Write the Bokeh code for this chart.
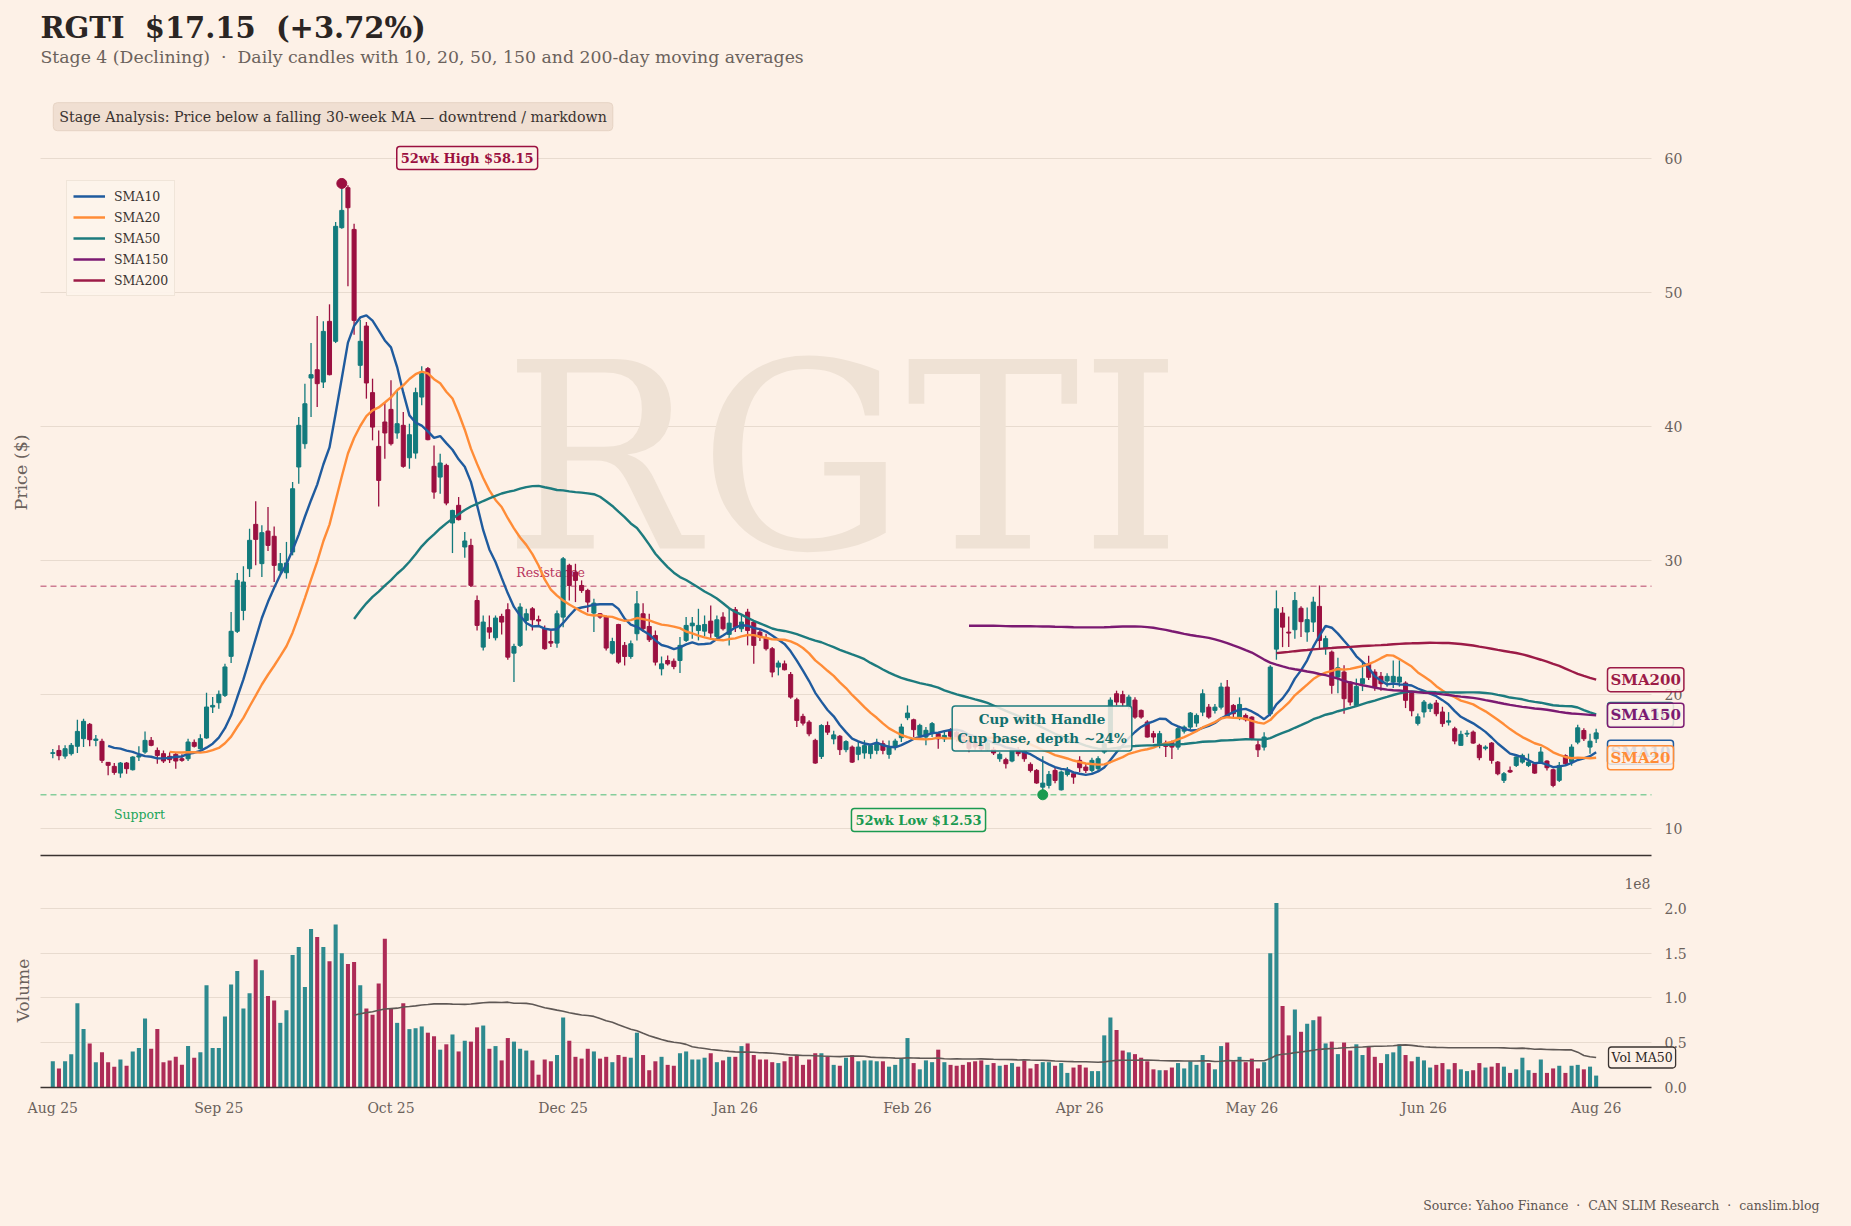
import math
import numpy as np
import pandas as pd
from bokeh.plotting import figure
from bokeh.layouts import column
from bokeh.models import (ColumnDataSource, Range1d, LinearAxis, FixedTicker, Label,
                          Legend, LegendItem, Grid)
from bokeh.core.properties import value
from bokeh.embed import file_html
from bokeh.resources import INLINE

# ---------------- data ----------------
TICKER = "RGTI"
LAST = 17.15
CHANGE_PCT = 3.72
STAGE = "Stage 4 (Declining)"
HIGH_52W = 58.15
HIGH_52W_IDX = 47
LOW_52W = 12.53
LOW_52W_IDX = 161
RESISTANCE = 28.1
SUPPORT = 12.53

TICK_IDX = [0, 27, 55, 83, 111, 139, 167, 195, 223, 251]
TICK_LABELS = ["Aug 25", "Sep 25", "Oct 25", "Dec 25", "Jan 26", "Feb 26",
               "Apr 26", "May 26", "Jun 26", "Aug 26"]
PRICE_TICKS = [10, 20, 30, 40, 50, 60]
VOL_TICKS = [0, 0.5e8, 1.0e8, 1.5e8, 2.0e8]

OPEN = [
    15.62, 15.84, 15.42, 15.60, 16.15, 16.72, 17.79, 16.59, 16.52, 14.95,
    14.65, 14.15, 14.90, 14.40, 15.35, 15.72, 16.59, 15.84, 15.60, 15.40,
    15.55, 15.22, 15.22, 16.44, 15.97, 16.77, 19.08, 19.40, 19.95, 22.86,
    24.73, 26.29, 29.40, 32.71, 29.78, 32.21, 31.82, 29.28, 29.10, 30.65,
    36.99, 38.73, 43.63, 44.25, 43.33, 47.86, 46.37, 54.85, 57.83, 54.72,
    44.58, 47.51, 42.54, 38.53, 40.35, 41.29, 39.53, 40.10, 37.68, 38.03,
    42.21, 44.33, 37.04, 36.24, 37.11, 32.81, 34.13, 31.02, 31.14, 27.03,
    23.55, 25.00, 24.25, 25.84, 26.34, 23.10, 23.68, 25.54, 26.41, 25.60,
    24.92, 23.97, 23.85, 25.79, 29.65, 29.15, 28.15, 27.78, 26.09, 26.04,
    25.79, 23.10, 25.24, 23.68, 22.85, 24.55, 26.04, 25.09, 24.42, 21.93,
    22.55, 22.50, 22.55, 24.05, 25.14, 24.79, 24.74, 25.49, 24.35, 25.79,
    24.50, 26.34, 24.92, 26.16, 25.42, 24.67, 24.25, 23.43, 22.06, 22.30,
    21.51, 19.62, 18.38, 17.95, 16.59, 15.39, 17.70, 16.70, 16.90, 15.90,
    16.09, 15.55, 15.65, 15.60, 15.85, 16.34, 15.55, 16.14, 16.79, 18.28,
    18.13, 16.96, 16.84, 17.09, 17.09, 16.71, 17.30, 17.20, 17.00, 16.60,
    16.50, 16.30, 15.90, 15.90, 15.22, 15.15, 15.05, 15.90, 15.80, 14.80,
    14.35, 13.10, 13.23, 14.35, 12.90, 14.05, 14.10, 15.10, 14.60, 14.35,
    14.48, 15.72, 16.40, 20.07, 20.00, 19.12, 19.60, 18.83, 17.96, 17.09,
    16.34, 16.39, 16.46, 16.09, 17.28, 17.58, 17.88, 18.70, 19.07, 18.83,
    19.07, 20.57, 19.20, 18.33, 18.45, 18.33, 16.26, 16.09, 18.58, 23.40,
    26.09, 24.67, 24.85, 26.45, 24.68, 25.42, 26.59, 23.43, 23.18, 21.32,
    21.69, 20.94, 19.20, 20.82, 22.30, 21.69, 21.37, 21.02, 20.94, 20.94,
    20.87, 20.12, 17.86, 18.71, 18.96, 19.38, 18.71, 17.95, 17.46, 16.22,
    17.06, 17.21, 16.22, 16.00, 16.39, 14.97, 13.61, 14.35, 14.72, 14.97,
    14.72, 14.85, 14.97, 15.05, 14.40, 13.61, 15.45, 15.00, 16.46, 17.33,
    16.09, 16.71,
]
HIGH = [
    15.95, 16.22, 16.22, 16.39, 18.13, 18.21, 17.89, 17.00, 16.72, 14.98,
    14.90, 14.97, 14.97, 15.40, 16.15, 17.26, 16.84, 16.05, 15.84, 15.70,
    15.70, 15.55, 16.72, 16.65, 17.04, 20.15, 19.83, 20.32, 22.30, 26.17,
    29.08, 29.58, 32.39, 34.43, 32.64, 34.00, 32.56, 30.57, 31.40, 35.87,
    40.72, 43.21, 46.24, 48.26, 47.86, 49.13, 55.27, 58.15, 58.01, 55.15,
    47.98, 47.81, 43.58, 39.72, 41.84, 43.46, 42.71, 41.09, 40.22, 42.91,
    44.50, 44.45, 38.60, 37.98, 37.24, 33.80, 34.75, 32.14, 31.64, 27.41,
    25.91, 25.91, 25.91, 26.04, 26.83, 23.80, 26.83, 26.41, 26.54, 25.90,
    25.17, 24.79, 26.29, 30.27, 29.77, 29.77, 28.53, 27.90, 27.16, 26.10,
    25.91, 24.25, 25.29, 23.93, 24.05, 27.73, 26.83, 26.04, 24.79, 22.85,
    22.93, 22.70, 24.30, 25.79, 25.79, 26.41, 25.91, 26.66, 25.91, 26.16,
    26.41, 26.54, 26.04, 26.41, 25.54, 24.90, 24.55, 23.55, 22.55, 22.55,
    21.69, 19.77, 18.58, 18.10, 16.71, 17.80, 18.00, 17.30, 17.00, 16.60,
    16.20, 16.47, 16.60, 16.34, 16.71, 16.59, 16.59, 16.71, 17.84, 19.20,
    18.21, 17.84, 17.59, 17.96, 17.14, 17.34, 17.50, 17.40, 17.20, 16.80,
    16.90, 16.50, 16.60, 16.10, 15.70, 15.30, 16.00, 16.10, 15.90, 14.95,
    14.45, 15.40, 14.30, 14.60, 14.35, 14.60, 14.23, 15.40, 14.85, 15.30,
    15.40, 16.84, 19.80, 20.30, 20.30, 20.00, 19.80, 18.90, 18.10, 17.30,
    17.30, 16.59, 16.59, 17.60, 17.70, 18.70, 18.60, 20.40, 19.30, 19.30,
    20.90, 21.10, 19.30, 19.80, 18.60, 18.40, 16.60, 17.20, 22.20, 27.78,
    26.54, 25.84, 27.66, 26.60, 26.50, 27.30, 28.15, 24.40, 23.30, 22.76,
    22.20, 21.00, 21.20, 22.43, 22.90, 21.90, 21.70, 21.60, 22.56, 22.56,
    21.00, 20.20, 18.60, 19.60, 19.40, 19.60, 19.10, 18.70, 17.60, 17.30,
    17.35, 17.33, 16.34, 16.22, 16.47, 15.05, 14.23, 14.65, 15.40, 15.60,
    15.60, 14.90, 16.10, 15.10, 14.47, 14.97, 15.55, 16.30, 17.75, 17.50,
    17.08, 17.45,
]
LOW = [
    15.25, 15.10, 15.22, 15.47, 15.65, 16.09, 16.15, 16.15, 14.90, 13.98,
    14.03, 13.81, 14.10, 14.35, 15.05, 15.60, 16.15, 14.85, 14.90, 14.90,
    14.48, 15.00, 15.05, 16.05, 15.90, 16.72, 18.63, 18.96, 19.83, 22.36,
    24.60, 25.55, 28.78, 29.65, 28.78, 30.72, 28.41, 28.90, 28.66, 30.40,
    35.75, 38.36, 40.72, 41.47, 42.88, 43.83, 46.24, 54.77, 50.47, 46.86,
    43.63, 42.09, 38.98, 34.05, 37.61, 38.60, 39.10, 36.94, 36.86, 37.61,
    41.59, 38.98, 34.62, 35.00, 34.13, 30.57, 33.00, 30.22, 28.03, 24.79,
    23.30, 24.17, 24.05, 24.50, 22.61, 20.94, 23.55, 24.79, 24.79, 25.20,
    23.35, 23.55, 23.50, 25.04, 27.03, 26.91, 27.60, 26.16, 24.67, 25.66,
    23.30, 23.00, 22.30, 22.18, 22.68, 24.05, 24.67, 23.93, 22.18, 21.44,
    22.18, 21.90, 21.61, 23.93, 24.17, 24.05, 24.35, 24.17, 24.05, 24.79,
    23.68, 24.67, 24.67, 23.68, 22.30, 24.00, 23.30, 21.31, 21.44, 21.81,
    19.69, 17.58, 17.70, 16.90, 14.85, 15.20, 17.00, 16.30, 15.50, 15.70,
    14.90, 15.10, 15.22, 15.22, 15.55, 15.55, 15.22, 15.85, 16.47, 18.10,
    16.84, 16.84, 16.22, 16.84, 15.97, 16.47, 16.70, 16.50, 16.30, 15.70,
    15.90, 15.80, 15.80, 15.50, 15.00, 14.50, 14.95, 15.40, 15.00, 14.20,
    13.35, 12.53, 13.00, 13.40, 12.85, 13.90, 13.35, 14.23, 14.15, 14.20,
    14.30, 15.60, 16.30, 19.20, 19.10, 18.90, 18.20, 18.20, 16.80, 16.40,
    16.00, 15.35, 15.20, 15.90, 17.10, 17.40, 17.60, 18.40, 18.20, 18.60,
    18.90, 18.30, 18.30, 18.10, 18.00, 16.60, 15.35, 15.84, 18.40, 22.61,
    23.55, 23.55, 24.17, 24.30, 23.95, 24.67, 23.43, 22.98, 20.07, 20.10,
    18.58, 19.20, 19.10, 20.27, 21.10, 20.30, 20.30, 20.60, 20.50, 20.60,
    19.00, 18.40, 17.70, 18.30, 18.70, 18.40, 17.60, 17.70, 16.30, 16.20,
    16.85, 16.34, 15.10, 15.85, 14.85, 13.98, 13.41, 14.15, 14.60, 14.85,
    14.60, 14.10, 14.85, 14.35, 13.10, 13.48, 14.70, 14.70, 16.30, 16.55,
    15.60, 16.40,
]
CLOSE = [
    15.67, 15.45, 15.97, 16.22, 17.26, 18.01, 16.64, 16.69, 15.10, 14.73,
    14.20, 14.90, 14.48, 15.35, 15.45, 16.59, 16.22, 15.47, 15.05, 15.15,
    15.05, 15.10, 16.47, 16.15, 16.72, 19.08, 19.20, 20.03, 22.07, 24.73,
    28.53, 28.41, 31.52, 31.59, 32.09, 31.14, 29.65, 29.78, 29.83, 35.37,
    40.10, 41.71, 43.88, 43.21, 47.11, 43.88, 54.95, 56.14, 56.34, 47.93,
    46.37, 43.26, 39.97, 35.99, 39.53, 38.73, 40.22, 37.04, 39.40, 42.54,
    44.08, 39.03, 35.12, 37.29, 34.30, 33.75, 33.06, 31.47, 28.16, 25.17,
    25.42, 24.67, 25.72, 25.42, 22.80, 23.60, 26.54, 26.04, 25.59, 25.50,
    23.43, 23.85, 26.04, 30.14, 28.15, 28.53, 27.78, 26.91, 26.83, 25.79,
    23.48, 23.97, 22.43, 22.85, 23.80, 26.78, 24.92, 24.10, 22.43, 22.30,
    22.30, 22.10, 23.68, 25.17, 25.34, 25.17, 25.24, 24.60, 25.59, 24.92,
    25.34, 25.04, 25.42, 24.79, 23.68, 24.30, 23.43, 21.69, 22.36, 21.86,
    19.82, 18.08, 17.88, 17.08, 14.90, 17.70, 17.20, 17.00, 15.90, 16.50,
    14.97, 16.09, 16.20, 16.20, 16.39, 15.85, 16.09, 16.54, 17.59, 18.63,
    17.39, 17.71, 17.34, 17.84, 16.71, 16.96, 16.90, 16.80, 16.50, 16.00,
    16.10, 15.95, 16.40, 15.65, 15.55, 14.85, 15.90, 15.60, 15.22, 14.35,
    13.41, 13.40, 14.05, 13.60, 14.23, 14.35, 13.85, 14.55, 14.35, 15.10,
    15.22, 16.34, 19.60, 19.45, 19.40, 19.82, 18.33, 18.33, 16.84, 16.84,
    17.09, 16.14, 16.09, 17.46, 17.58, 18.63, 18.45, 20.07, 18.33, 19.07,
    20.57, 18.33, 18.58, 19.27, 18.13, 16.71, 15.89, 16.84, 22.06, 26.41,
    25.04, 24.60, 27.03, 25.45, 25.60, 26.91, 24.05, 24.18, 20.70, 22.01,
    19.70, 19.45, 20.62, 21.19, 21.30, 20.52, 20.82, 21.37, 21.37, 21.32,
    19.58, 18.80, 18.35, 19.45, 19.28, 18.58, 17.84, 18.05, 16.54, 17.04,
    17.12, 16.39, 15.30, 16.09, 15.10, 14.10, 14.10, 14.23, 15.35, 15.47,
    14.97, 14.15, 15.72, 14.55, 13.23, 14.72, 14.85, 16.09, 17.53, 16.71,
    16.53, 17.15,
]
# volume in millions of shares
VOLUME_M = [
    29, 21, 29, 37, 94, 65, 49, 28, 39, 28,
    23, 31, 24, 40, 44, 77, 43, 65, 28, 30,
    34, 25, 46, 33, 39, 114, 44, 44, 79, 115,
    130, 88, 105, 143, 131, 102, 97, 72, 86, 148,
    157, 112, 177, 168, 157, 141, 182, 150, 138, 140,
    114, 88, 81, 116, 166, 88, 72, 94, 65, 66,
    68, 61, 57, 42, 48, 59, 40, 52, 51, 67,
    69, 43, 46, 30, 55, 51, 43, 41, 30, 14,
    31, 29, 36, 78, 52, 34, 32, 43, 40, 32,
    34, 28, 36, 34, 33, 61, 36, 19, 29, 34,
    25, 24, 38, 40, 31, 31, 33, 38, 28, 30,
    34, 34, 46, 49, 36, 31, 31, 28, 27, 29,
    34, 36, 25, 31, 38, 38, 34, 25, 24, 33,
    36, 29, 30, 30, 29, 29, 23, 25, 32, 55,
    27, 20, 30, 28, 42, 28, 25, 24, 25, 28,
    29, 30, 25, 27, 24, 25, 27, 23, 30, 21,
    26, 28, 28, 24, 27, 16, 22, 25, 22, 18,
    18, 58, 78, 64, 41, 39, 37, 33, 29, 20,
    19, 19, 22, 27, 21, 29, 25, 36, 27, 20,
    46, 50, 29, 34, 28, 32, 21, 28, 150, 206,
    91, 58, 87, 62, 71, 75, 79, 49, 51, 37,
    50, 41, 48, 36, 46, 34, 27, 37, 39, 48,
    36, 29, 34, 30, 22, 25, 27, 20, 27, 20,
    18, 19, 27, 22, 23, 27, 23, 16, 20, 33,
    19, 16, 31, 16, 21, 24, 16, 24, 25, 20,
    23, 13,
]
SMA_WINDOWS = [10, 20, 50, 150, 200]
SMA_NAMES = ["SMA10", "SMA20", "SMA50", "SMA150", "SMA200"]
VOL_MA_WINDOW = 50

# ---------------- styles / geometry ----------------
BG = "#fdf1e7"
GRID = "#e8dbcf"
AXIS_TXT = "#6b625c"
DARK = "#3a3330"
UP = "#127a7c"
DOWN = "#9b1040"
VOL_UP = "#2e8a8f"
VOL_DOWN = "#ad2c57"
SMA_COLORS = ["#1f5b9e", "#ff8c37", "#1d7b7e", "#7b1a72", "#9c1b47"]
FONT = "DejaVu Serif"
SP2 = " \u00a0"   # a double space that survives SVG whitespace collapsing

W = 1835
PRICE_H = 859
VOL_H = 351
XMIN, XMAX = -2, 260          # plotted x extent (frame of the axes)
PMIN, PMAX = 8.0, 63.37       # price axis limits
VMAX = 2.19e8                 # volume axis top
# page pixel positions of the axes boxes
AX_L, AX_R = 40, 1651
P_TOP, P_BOT = 113, 855
V_TOP, V_BOT = 891, 1086.7
PAGE_OFF = 8

PPX = (AX_R - AX_L) / (XMAX - XMIN)
PPY = (P_BOT - P_TOP) / (PMAX - PMIN)
VPY = (V_BOT - V_TOP) / VMAX


def dx(page_x):
    return XMIN + (page_x - AX_L) / PPX


def dy(page_y):
    return PMIN + (P_BOT - page_y) / PPY


def dv(page_y):
    return (V_BOT - page_y) / VPY


X0, X1 = dx(PAGE_OFF), dx(PAGE_OFF + W)
Y0, Y1 = dy(PAGE_OFF + PRICE_H), dy(PAGE_OFF)
V0, V1 = dv(PAGE_OFF + PRICE_H + VOL_H), dv(PAGE_OFF + PRICE_H)

n = len(CLOSE)
idx = np.arange(n)
o = np.array(OPEN); h = np.array(HIGH); l = np.array(LOW); c = np.array(CLOSE)
vol = np.array(VOLUME_M, dtype=float) * 1e6
up = c >= o
src = ColumnDataSource(dict(x=idx, o=o, h=h, l=l, c=c,
                            top=np.maximum(o, c), bottom=np.minimum(o, c),
                            color=np.where(up, UP, DOWN), vol=vol,
                            vcolor=np.where(up, VOL_UP, VOL_DOWN)))

closes = pd.Series(CLOSE)
smas = [closes.rolling(w).mean().to_numpy() for w in SMA_WINDOWS]
vol_ma = pd.Series(vol).rolling(VOL_MA_WINDOW).mean().to_numpy()


def add_hgrid(fig, ticks):
    g = Grid(dimension=1, ticker=FixedTicker(ticks=ticks), grid_line_color=GRID, grid_line_width=1)
    try:
        g.cross_bounds = (XMIN, XMAX)
        fig.add_layout(g)
    except Exception:
        fig.segment(x0=[XMIN] * len(ticks), x1=[XMAX] * len(ticks), y0=ticks, y1=ticks,
                    line_color=GRID, line_width=1, level="underlay")


def hline(fig, level, color, alpha):
    fig.segment(x0=[XMIN], x1=[XMAX], y0=[level], y1=[level], line_color=color,
                line_dash="6 4", line_width=1.5, line_alpha=alpha, level="underlay")


def right_axis(fig, ticks, overrides=None):
    ax = LinearAxis(fixed_location=XMAX, ticker=FixedTicker(ticks=ticks),
                    major_label_text_font=FONT, major_label_text_font_size="14px",
                    major_label_text_color=AXIS_TXT, axis_line_color=None,
                    major_tick_line_color=None, minor_tick_line_color=None,
                    major_label_standoff=7)
    if overrides:
        ax.major_label_overrides = overrides
    fig.add_layout(ax, "right")


def txt(fig, x, y, text, size, color, bold=False, align="left", baseline="middle", angle=0.0, **kw):
    fig.add_layout(Label(x=x, y=y, text=text, text_font=FONT, text_font_size=size,
                         text_font_style="bold" if bold else "normal", text_color=color,
                         text_align=align, text_baseline=baseline, angle=angle, **kw))


def box_label(fig, x, y, text, color, size, bold=True, align="center", border=None,
              bg=BG, bg_alpha=0.9, pad=4, bw=1.5):
    txt(fig, x, y, text, size, color, bold=bold, align=align,
        background_fill_color=bg, background_fill_alpha=bg_alpha,
        border_line_color=border if border else color, border_line_width=bw,
        padding=pad, border_radius=3)


# ---------------- price figure ----------------
x_range = Range1d(X0, X1)
p = figure(width=W, height=PRICE_H, x_range=x_range, y_range=Range1d(Y0, Y1),
           output_backend="svg", toolbar_location=None,
           x_axis_location=None, y_axis_location=None,
           min_border=0, min_border_left=0, min_border_right=0, min_border_top=0, min_border_bottom=0,
           background_fill_color=BG, border_fill_color=BG, outline_line_color=None)
p.grid.visible = False
add_hgrid(p, PRICE_TICKS)
right_axis(p, PRICE_TICKS)
spine = LinearAxis(fixed_location=PMIN, bounds=(XMIN, XMAX), ticker=FixedTicker(ticks=[]),
                   axis_line_color=DARK, axis_line_width=1.6,
                   major_tick_line_color=None, minor_tick_line_color=None)
p.add_layout(spine, "below")

# watermark
p.text(x=[dx(842)], y=[dy(458)], text=[TICKER], text_font=value(FONT),
       text_font_size=value("260px"), text_color="#efe2d5",
       text_align="center", text_baseline="middle")

# support / resistance
hline(p, RESISTANCE, "#c9708a", 0.9)
hline(p, SUPPORT, "#7fcb98", 0.95)
p.text(x=[dx(550)], y=[dy(572)], text=["Resistance"], text_font=value(FONT),
       text_font_size=value("12.5px"), text_color="#b8345e", text_align="center", text_baseline="middle")
p.text(x=[dx(139)], y=[dy(813.5)], text=["Support"], text_font=value(FONT),
       text_font_size=value("12.5px"), text_color="#22a55a", text_align="center", text_baseline="middle")

# candles
p.segment(x0="x", y0="l", x1="x", y1="h", color="color", line_width=1.3, source=src)
p.vbar(x="x", top="top", bottom="bottom", width=0.66, fill_color="color", line_color="color",
       line_width=1, source=src)

# moving averages
sma_renderers = []
for name, arr, col in zip(SMA_NAMES, smas, SMA_COLORS):
    sma_renderers.append(p.line(idx, arr, line_color=col, line_width=2.4))

legend = Legend(items=[LegendItem(label=nm, renderers=[r]) for nm, r in zip(SMA_NAMES, sma_renderers)],
                location=(66 - PAGE_OFF, PAGE_OFF + PRICE_H - 296),
                label_text_font=FONT, label_text_font_size="12.5px",
                label_text_color=DARK, glyph_width=32, glyph_height=18, label_height=18,
                spacing=3, padding=6, margin=0, label_standoff=9,
                background_fill_color="#fdf3eb", background_fill_alpha=0.95,
                border_line_color="#e3d5c8", border_line_width=1)
p.add_layout(legend)

# 52-week markers
p.scatter([HIGH_52W_IDX], [HIGH_52W], size=10, color="#9b1040")
p.scatter([LOW_52W_IDX], [LOW_52W], size=10, color="#1a9a50")

box_label(p, dx(466.7), dy(157.5), "52wk High $%.2f" % HIGH_52W, "#9b1040", "13px")
box_label(p, dx(918), dy(819.5), "52wk Low $%.2f" % LOW_52W, "#1a9a50", "13px")
box_label(p, dx(1041.5), dy(728), "Cup with Handle\nCup base, depth ~24%", "#12706f", "13.5px",
          border="#1d7b7e", bg_alpha=0.85, pad=5)

# SMA end labels
for name, arr, col in zip(SMA_NAMES, smas, SMA_COLORS):
    box_label(p, dx(1607), arr[-1], name, col, "15px", align="left", bg_alpha=0.85, pad=3)

# titles and notes
txt(p, dx(40), dy(27.2), "%s%s$%.2f%s(+%.2f%%)" % (TICKER, SP2, LAST, SP2, CHANGE_PCT),
    "29px", "#2b2523", bold=True)
txt(p, dx(40), dy(56.3),
    STAGE + SP2 + "\u00b7" + SP2 + "Daily candles with 10, 20, 50, 150 and 200-day moving averages",
    "17.3px", AXIS_TXT)
txt(p, dx(52.8), dy(116.2),
    "Stage Analysis: Price below a falling 30-week MA \u2014 downtrend / markdown",
    "14.2px", DARK, background_fill_color="#f0dfd2", background_fill_alpha=1.0,
    border_line_color="#e6d3c4", border_line_width=1, padding=6, border_radius=4)
txt(p, dx(20), dy(472), "Price ($)", "17.5px", AXIS_TXT, align="center", angle=math.pi / 2)

# ---------------- volume figure ----------------
v = figure(width=W, height=VOL_H, x_range=x_range, y_range=Range1d(V0, V1),
           output_backend="svg", toolbar_location=None,
           x_axis_location=None, y_axis_location=None,
           min_border=0, min_border_left=0, min_border_right=0, min_border_top=0, min_border_bottom=0,
           background_fill_color=BG, border_fill_color=BG, outline_line_color=None)
v.grid.visible = False
add_hgrid(v, VOL_TICKS[1:])
right_axis(v, VOL_TICKS, {t: "%.1f" % (t / 1e8) for t in VOL_TICKS})
xax = LinearAxis(fixed_location=0, bounds=(XMIN, XMAX), ticker=FixedTicker(ticks=TICK_IDX),
                 major_label_overrides={t: lab for t, lab in zip(TICK_IDX, TICK_LABELS)},
                 major_label_text_font=FONT, major_label_text_font_size="14px",
                 major_label_text_color=AXIS_TXT, major_tick_line_color=None,
                 minor_tick_line_color=None, major_label_standoff=7,
                 axis_line_color=DARK, axis_line_width=1.6)
v.add_layout(xax, "below")

v.vbar(x="x", top="vol", width=0.66, fill_color="vcolor", line_color=None, source=src)
v.line(idx, vol_ma, line_color="#5f5855", line_width=1.6)

txt(v, dx(1608), vol_ma[-1], "Vol MA%d" % VOL_MA_WINDOW, "12.5px", "#2b2523",
    background_fill_color=BG, background_fill_alpha=0.9, border_line_color=DARK,
    border_line_width=1.3, padding=3, border_radius=3)
txt(v, dx(1650), dv(883), "1e8", "14px", AXIS_TXT, align="right")
txt(v, dx(22), dv(990), "Volume", "17px", AXIS_TXT, align="center", angle=math.pi / 2)
txt(v, dx(1819), dv(1205),
    "Source: Yahoo Finance" + SP2 + "\u00b7" + SP2 + "CAN SLIM Research" + SP2 + "\u00b7" + SP2 + "canslim.blog",
    "12.5px", "#5e5652", align="right")

layout = column(p, v, spacing=0)

TEMPLATE = ("{% block postamble %}<style>html, body { background-color: #fdf1e7; } "
            "body { padding: 8px !important; }</style>{% endblock %}")
html = file_html(layout, INLINE, title="RGTI", template=TEMPLATE)
open("out.html", "w").write(html)
